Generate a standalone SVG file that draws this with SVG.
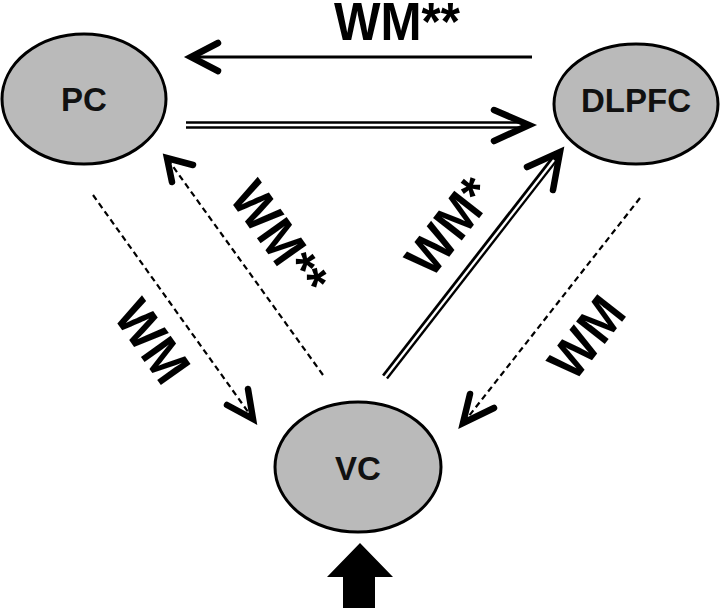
<svg xmlns="http://www.w3.org/2000/svg" width="720" height="608" viewBox="0 0 720 608">
<style>
.node{fill:#bababa;stroke:#000;stroke-width:3}
.nt{font-family:"Liberation Sans",Arial,sans-serif;font-weight:bold;font-size:33px;text-anchor:middle;fill:#111}
.lbl{font-family:"Liberation Sans",Arial,sans-serif;font-weight:bold;font-size:53px;text-anchor:middle;fill:#000}
.solid{stroke:#000;stroke-width:3;fill:none}
.dbl-o{stroke:#000;stroke-width:7.5;fill:none}
.dbl-i{stroke:#fff;stroke-width:2.3;fill:none}
.dash{stroke:#000;stroke-width:2.2;stroke-dasharray:6 4;fill:none}
.head{stroke:#000;stroke-width:6.5;fill:none;stroke-linecap:round;stroke-linejoin:miter}
</style>
<rect width="720" height="608" fill="#fff"/>
<g id="PC"><ellipse class="node" cx="84" cy="99" rx="82" ry="65"/><text class="nt" x="84" y="111">PC</text></g>
<g id="DLPFC"><ellipse class="node" cx="636" cy="104" rx="82" ry="60"/><text class="nt" x="636" y="112">DLPFC</text></g>
<g id="VC"><ellipse class="node" cx="358" cy="467" rx="83" ry="65"/><text class="nt" x="358" y="480">VC</text></g>
<g id="connectors">
<line class="solid" x1="532" y1="57" x2="193" y2="57"/>
<path class="head" d="M218,43 L191,57 L218,71"/>
<line class="dbl-o" x1="186" y1="125" x2="524" y2="125"/>
<line class="dbl-i" x1="184" y1="125" x2="522" y2="125"/>
<path class="head" d="M494,110 L529,125 L494,141"/>
<line class="dbl-o" x1="385" y1="377" x2="556" y2="157"/>
<line class="dbl-i" x1="384" y1="378.5" x2="554" y2="160"/>
<path class="head" d="M527,167 L560,152 L553,190"/>
<line class="dash" x1="93" y1="195" x2="251" y2="416"/>
<path class="head" d="M227,405 L253,419 L248,389"/>
<line class="dash" x1="323" y1="375" x2="169" y2="161"/>
<path class="head" d="M172,182 L167,158 L193,165"/>
<line class="dash" x1="640" y1="198" x2="465" y2="421"/>
<path class="head" d="M470,394 L463,423 L494,408"/>
<polygon points="360,543 393,577 375,577 375,608 343,608 343,577 327,577" fill="#000"/>
</g>
<text class="lbl" transform="translate(397,40) scale(0.93,1)">WM**</text>
<text class="lbl" transform="translate(153,341) rotate(54.6) scale(0.93,1)" y="19">WM</text>
<text class="lbl" transform="translate(280,238) rotate(54.6) scale(0.93,1)" y="19">WM**</text>
<text class="lbl" transform="translate(449,226) rotate(-52) scale(0.93,1)" y="19">WM*</text>
<text class="lbl" transform="translate(586,337) rotate(-52) scale(0.93,1)" y="19">WM</text>
</svg>
